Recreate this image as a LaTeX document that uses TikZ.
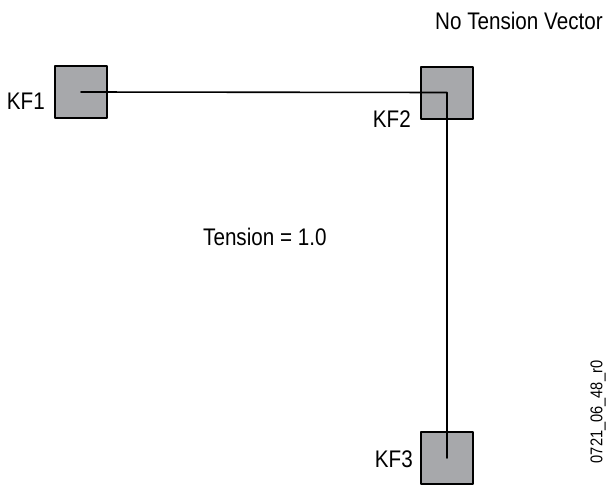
\documentclass[tikz,border=0pt]{standalone}
\usepackage{fontspec}
\setmainfont{Liberation Sans}[FakeStretch=0.86]
\usepackage{tikz}
\definecolor{boxgray}{HTML}{A7A8AB}
\tikzset{
  every picture/.style={line join=round, line cap=round},
  kf/.style={draw=black, fill=boxgray, line width=2pt, minimum size=52pt, inner sep=0pt},
  lab/.style={font=\fontsize{24}{28}\selectfont, inner sep=0pt},
}
\begin{document}
\begin{tikzpicture}[x=1pt,y=-1pt]
\useasboundingbox (0,0) rectangle (609,487);
% keyframes
\node[kf](kf1) at (81,92) {};
\node[kf](kf2) at (447,92.5) {};
\node[kf](kf3) at (447,458) {};
% path through the keyframes
\draw[line width=1.6pt] (kf1.center) -- (kf2.center) -- (kf3.center);
% labels
\node[lab,anchor=base east](kf1lab) at (45,109) {KF1};
\node[lab,anchor=base east](kf2lab) at (411,127) {KF2};
\node[lab,anchor=base east](kf3lab) at (413,467) {KF3};
\node[lab,anchor=base west](tension) at (203,245) {Tension = 1.0};
\node[lab,anchor=base west](title) at (435,30) {No Tension Vector};
\node[font=\fontsize{17}{20}\selectfont, inner sep=0pt, rotate=90](figid) at (598,412) {0721\_06\_48\_r0};
\end{tikzpicture}
\end{document}
